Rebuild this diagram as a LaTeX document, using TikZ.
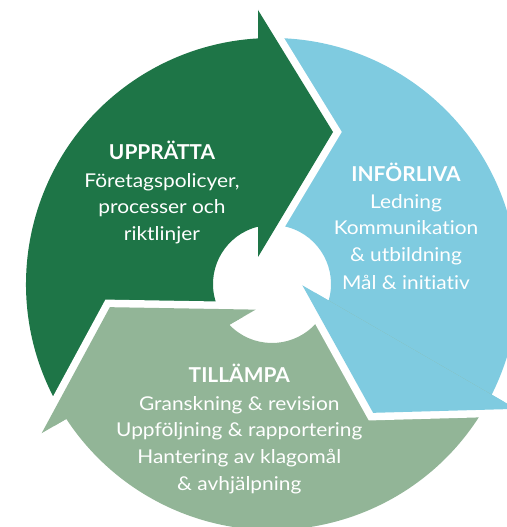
\documentclass[tikz,border=0pt]{standalone}
\usepackage{fontspec}
\setmainfont{Lato}[Ligatures=NoCommon]
\newfontfamily\bodyfont{Lato}[Ligatures=NoCommon,FakeStretch=1.10]
\newfontfamily\headfont{Lato}[Ligatures=NoCommon,FakeStretch=1.02]
\begin{document}
\begin{tikzpicture}[x=1pt,y=1pt,
  headtxt/.style={anchor=base,text=white,inner sep=0pt,font=\headfont\fontsize{20.5}{24}\selectfont\bfseries},
  bodytxt/.style={anchor=base,text=white,inner sep=0pt,font=\bodyfont\fontsize{19}{22}\selectfont},
  sepline/.style={white,line width=15pt,line join=miter,line cap=butt}]
\definecolor{cdark}{HTML}{1E7547}
\definecolor{cblue}{HTML}{7FCBE0}
\definecolor{csage}{HTML}{92B597}
\useasboundingbox (-272,-243) rectangle (234,284);

% one segment of the cycle: ring sector from the previous head's base line
% up to its own base line, plus its arrowhead
\def\segment{(93.262:246) -- (-14,274) -- (61,152) -- (-14,27) -- (103.727:59)
  arc[start angle=103.727,end angle=223.727,radius=59]
  -- (213.262:246) arc[start angle=213.262,end angle=93.262,radius=246] -- cycle}
\def\headpath{(-14,274) -- (61,152) -- (-14,27)}

\fill[cdark] \segment;
\begin{scope}[rotate=-120] \fill[cblue] \segment; \end{scope}
\begin{scope}[rotate=120] \fill[csage] \segment; \end{scope}

% white gaps along the arrowhead sides
\draw[sepline] \headpath;
\begin{scope}[rotate=-120] \draw[sepline] \headpath; \end{scope}
\begin{scope}[rotate=120] \draw[sepline] \headpath; \end{scope}

% arrowheads on top
\fill[cdark] \headpath -- cycle;
\begin{scope}[rotate=-120] \fill[cblue] \headpath -- cycle; \end{scope}
\begin{scope}[rotate=120] \fill[csage] \headpath -- cycle; \end{scope}

% labels
\node[headtxt] (h1) at (-110,124.7) {UPPRÄTTA};
\node[bodytxt] (a1) at (-110,96.7) {Företagspolicyer,};
\node[bodytxt] (a2) at (-110,70) {processer och};
\node[bodytxt] (a3) at (-110,43) {riktlinjer};

\node[headtxt] (h2) at (134,102.3) {INFÖRLIVA};
\node[bodytxt] (b1) at (134,75) {Ledning};
\node[bodytxt] (b2) at (134,49) {Kommunikation};
\node[bodytxt] (b3) at (134,22.3) {\& utbildning};
\node[bodytxt] (b4) at (134,-5.3) {Mål \& initiativ};

\node[headtxt] (h3) at (-32.7,-98.7) {TILLÄMPA};
\node[bodytxt] (c1) at (-32.7,-126) {Granskning \& revision};
\node[bodytxt] (c2) at (-32.7,-152.7) {Uppföljning \& rapportering};
\node[bodytxt] (c3) at (-32.7,-179.3) {Hantering av klagomål};
\node[bodytxt] (c4) at (-32.7,-206.7) {\& avhjälpning};
\end{tikzpicture}
\end{document}
